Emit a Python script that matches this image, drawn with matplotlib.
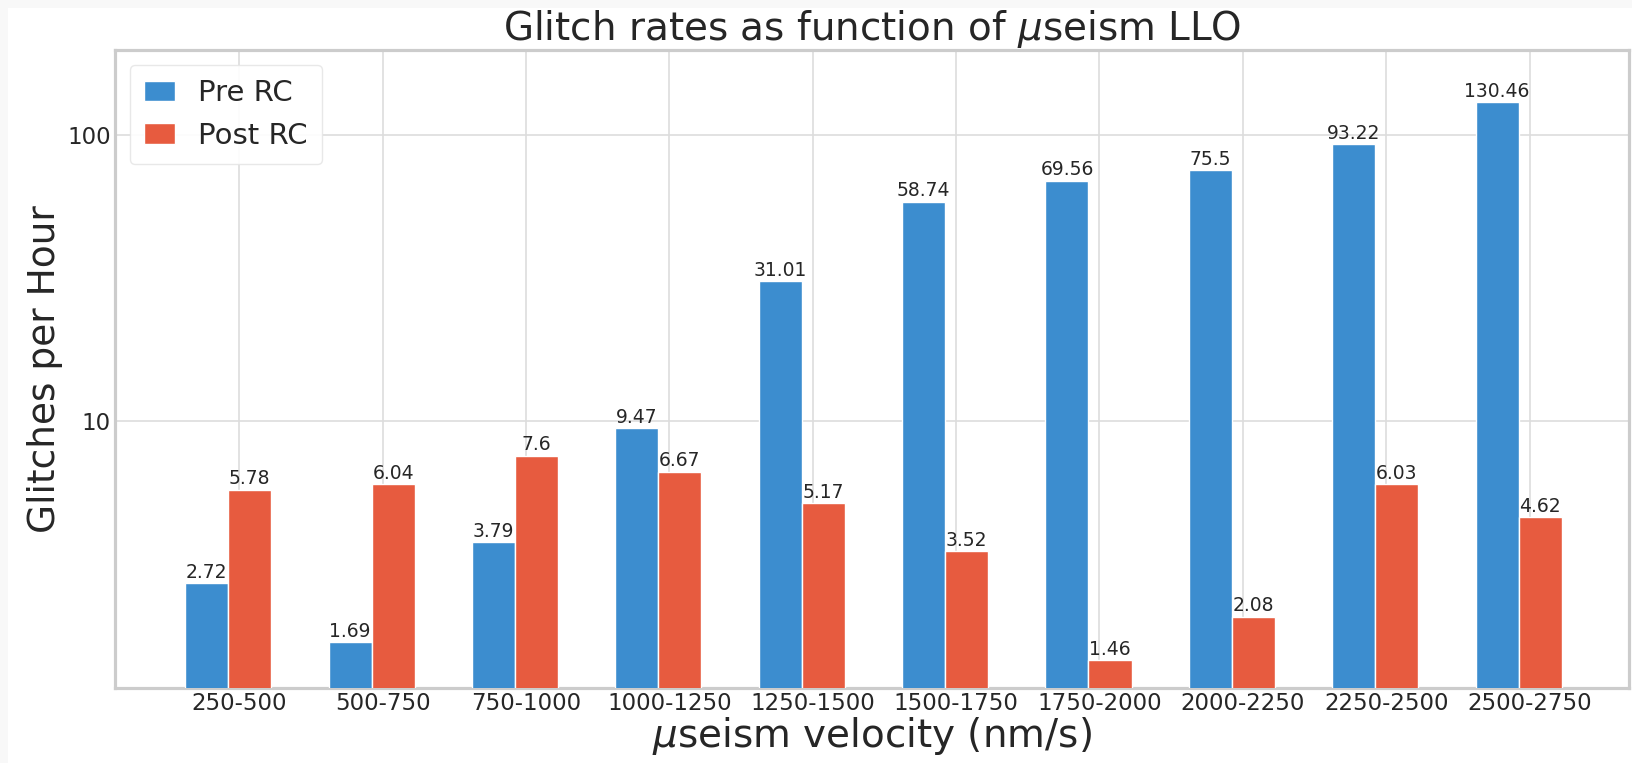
import matplotlib
matplotlib.use('Agg')
import matplotlib.pyplot as plt
import matplotlib.ticker as ticker
from matplotlib.patches import Rectangle
import numpy as np

# glitch rates per microseism velocity bin
bins = ['250-500', '500-750', '750-1000', '1000-1250', '1250-1500',
        '1500-1750', '1750-2000', '2000-2250', '2250-2500', '2500-2750']
pre_rc = [2.72, 1.69, 3.79, 9.47, 31.01, 58.74, 69.56, 75.5, 93.22, 130.46]
post_rc = [5.78, 6.04, 7.6, 6.67, 5.17, 3.52, 1.46, 2.08, 6.03, 4.62]

BLUE = '#3c8dcf'
RED = '#e75b3f'
TEXT = '#262626'

plt.style.use('seaborn-v0_8-whitegrid')
plt.rcParams['font.family'] = ['DejaVu Sans']

fig = plt.figure(figsize=(16.33, 7.63), dpi=100)
fig.patch.set_facecolor('#f8f8f8')
# white page with a thin grey strip along the top and left
fig.patches.append(Rectangle((8 / 1633, 0), 1, 1 - 8 / 763, transform=fig.transFigure,
                             facecolor='white', edgecolor='none', zorder=-10))

ax = fig.add_axes([115 / 1633, 1 - 688 / 763, (1629 - 115) / 1633, (688 - 50) / 763])
ax.set_facecolor('white')

x = np.arange(len(bins))
width = 0.3

b1 = ax.bar(x, pre_rc, width, color=BLUE, edgecolor='white', linewidth=1, label='Pre RC', zorder=3)
b2 = ax.bar(x + width, post_rc, width, color=RED, edgecolor='white', linewidth=1, label='Post RC', zorder=3)

for bars, vals in ((b1, pre_rc), (b2, post_rc)):
    for bar, v in zip(bars, vals):
        ax.annotate(f'{v}', xy=(bar.get_x() + bar.get_width() / 2, v),
                    xytext=(0, 1), textcoords='offset points',
                    ha='center', va='bottom', fontsize=13.5, color=TEXT, zorder=4)

ax.set_yscale('log')
ax.set_ylim(1.17, 199)
ax.set_xlim(-0.64, 9.92)
ax.yaxis.set_major_locator(ticker.FixedLocator([10, 100]))
ax.yaxis.set_major_formatter(ticker.FixedFormatter(['10', '100']))
ax.yaxis.set_minor_locator(ticker.NullLocator())

ax.set_xticks(x + 0.226)
ax.set_xticklabels(bins)
ax.tick_params(axis='both', labelsize=16.5, colors=TEXT, length=0, pad=3)

ax.set_title(r'Glitch rates as function of $\mu$seism LLO', fontsize=28, color=TEXT, pad=5)
ax.set_xlabel(r'$\mu$seism velocity (nm/s)', fontsize=28, color=TEXT, labelpad=0)
ax.set_ylabel('Glitches per Hour', fontsize=27, color=TEXT, labelpad=3)

ax.grid(True, color='#dddddd', linewidth=1.2, zorder=0)
ax.set_axisbelow(True)
for sp in ax.spines.values():
    sp.set_color('#cccccc')
    sp.set_linewidth(2.3)

leg = ax.legend(loc='upper left', fontsize=21, frameon=True, framealpha=0.9,
                borderpad=0.5, handlelength=1.05, handleheight=0.7, handletextpad=0.8)
leg.get_frame().set_edgecolor('#e6e6e6')

fig.savefig('out.png', dpi=100, facecolor=fig.get_facecolor())
